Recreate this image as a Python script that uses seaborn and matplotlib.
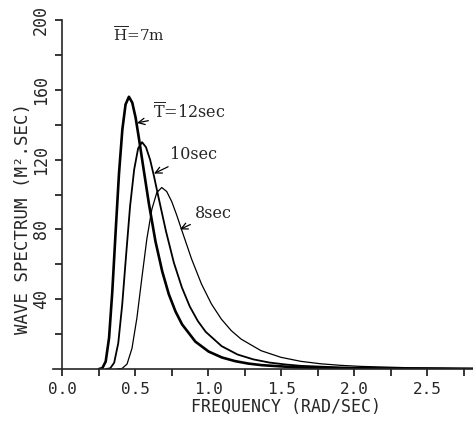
import pandas as pd
import matplotlib
matplotlib.use("Agg")
import matplotlib.pyplot as plt
import seaborn as sns

# values (frequency in rad/sec, spectrum in m^2.sec)
freq_12 = [0.250, 0.273, 0.296, 0.319, 0.341, 0.364, 0.387, 0.410, 0.432, 0.455,
           0.478, 0.501, 0.523, 0.546, 0.592, 0.637, 0.683, 0.728, 0.774, 0.819,
           0.910, 1.001, 1.092, 1.183, 1.274, 1.365, 1.593, 1.820, 2.275, 2.820]
spec_12 = [0.0, 0.5, 4.3, 17.8, 44.1, 78.6, 111.9, 137.2, 151.6, 156.0,
           152.6, 144.0, 132.5, 119.8, 94.7, 73.1, 56.0, 42.9, 33.0, 25.6,
           15.7, 10.0, 6.6, 4.5, 3.1, 2.2, 1.0, 0.5, 0.2, 0.06]

freq_10 = [0.300, 0.327, 0.354, 0.382, 0.409, 0.436, 0.463, 0.491, 0.518, 0.545,
           0.572, 0.600, 0.627, 0.654, 0.709, 0.763, 0.818, 0.872, 0.927, 0.981,
           1.090, 1.199, 1.308, 1.417, 1.526, 1.635, 1.908, 2.180, 2.725, 2.834]
spec_10 = [0.0, 0.4, 3.6, 14.8, 36.8, 65.5, 93.3, 114.3, 126.4, 130.0,
           127.1, 120.0, 110.4, 99.8, 78.9, 60.9, 46.7, 35.8, 27.5, 21.3,
           13.1, 8.3, 5.5, 3.7, 2.6, 1.8, 0.9, 0.4, 0.14, 0.12]

freq_8 = [0.374, 0.408, 0.442, 0.476, 0.510, 0.544, 0.578, 0.612, 0.646, 0.680,
          0.714, 0.748, 0.782, 0.816, 0.884, 0.952, 1.020, 1.088, 1.156, 1.224,
          1.360, 1.496, 1.632, 1.768, 1.904, 2.040, 2.380, 2.720, 2.856]
spec_8 = [0.0, 0.3, 2.8, 11.8, 29.4, 52.4, 74.6, 91.5, 101.1, 104.0,
          101.7, 96.0, 88.3, 79.8, 63.1, 48.7, 37.3, 28.6, 22.0, 17.1,
          10.5, 6.7, 4.4, 3.0, 2.1, 1.5, 0.7, 0.35, 0.28]

x_ticks = [0.0, 0.5, 1.0, 1.5, 2.0, 2.5]
y_ticks = [40, 80, 120, 160, 200]

sns.set_style("ticks")
plt.rcParams["mathtext.fontset"] = "dejavuserif"

fig = plt.figure(figsize=(4.73, 4.21), dpi=100)
ax = fig.add_axes([53 / 473, 52 / 421, 420 / 473, 349 / 421])

curves = [("12", freq_12, spec_12, 1.9), ("10", freq_10, spec_10, 1.3), ("8", freq_8, spec_8, 0.9)]
for name, f, s, lw in curves:
    df = pd.DataFrame({"freq": f, "spec": s})
    sns.lineplot(data=df, x="freq", y="spec", ax=ax, color="black", linewidth=lw, sort=False)

ax.set_xlim(-0.065, 2.812)
ax.set_ylim(0, 200)
ax.spines["top"].set_visible(False)
ax.spines["right"].set_visible(False)
ax.spines["left"].set_position(("data", 0))
ax.spines["left"].set_linewidth(1.2)
ax.spines["bottom"].set_linewidth(1.2)

mono = "DejaVu Sans Mono"
ax.set_xticks(x_ticks)
ax.set_xticklabels([f"{v:.1f}" for v in x_ticks], family=mono, fontsize=11.5)
ax.set_xticks([0.25, 0.75, 1.25, 1.75, 2.25, 2.75], minor=True)
ax.set_yticks(y_ticks)
ax.set_yticklabels([str(v) for v in y_ticks], family=mono, fontsize=12, rotation=90, va="center")
ax.set_yticks([20, 60, 100, 140, 180], minor=True)
ax.tick_params(axis="both", which="both", direction="out", length=5, width=1.1, color="black")
ax.tick_params(axis="x", which="both", pad=4.5)
ax.tick_params(axis="y", which="both", pad=4)

ax.set_xlabel("FREQUENCY (RAD/SEC)", family=mono, fontsize=12)
ax.set_ylabel("WAVE SPECTRUM (M².SEC)", family=mono, fontsize=12.5)
ax.xaxis.set_label_coords(0.555, -0.082)
ax.yaxis.set_label_coords(-0.05, 0.43)

serif = "DejaVu Serif"
ax.text(0.346, 191, r"$\overline{\mathrm{H}}$=7m", family=serif, fontsize=11, ha="left", va="center")
arrow = dict(arrowstyle="->", color="black", lw=0.9, shrinkA=1, shrinkB=0)
ax.annotate(r"$\overline{\mathrm{T}}$=12sec", xy=(0.51, 141), xytext=(0.62, 147),
            family=serif, fontsize=11.5, ha="left", va="center", arrowprops=arrow)
ax.annotate("10sec", xy=(0.627, 112), xytext=(0.737, 123),
            family=serif, fontsize=11.5, ha="left", va="center", arrowprops=arrow)
ax.annotate("8sec", xy=(0.805, 80), xytext=(0.907, 89),
            family=serif, fontsize=11.5, ha="left", va="center", arrowprops=arrow)

fig.savefig("out.png", dpi=100)
